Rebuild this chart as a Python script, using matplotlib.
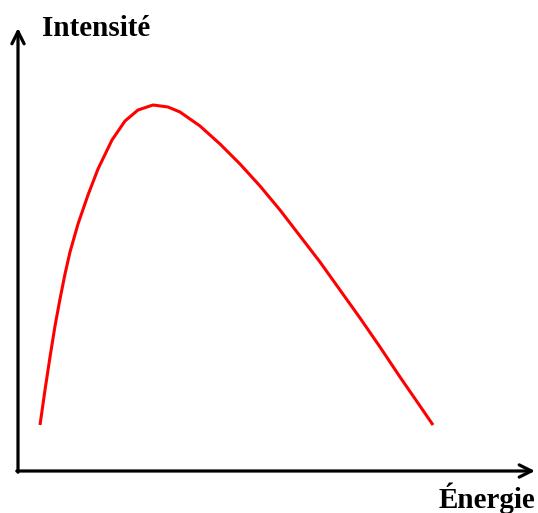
import matplotlib.pyplot as plt

# Values (arbitrary units)
energie = [22, 27, 32, 37, 42, 47, 52, 60, 70, 80, 94, 107, 120, 135, 150, 162,
           182, 202, 222, 242, 262, 282, 302, 322, 342, 362, 382, 402, 415]
intensite = [46, 81, 114, 145, 172, 197, 219, 247, 276, 302, 331, 350, 361, 366, 364, 359,
             345, 327, 307, 285, 261, 235, 209, 181, 153, 124, 94, 65, 46]

label_x = "Énergie"
label_y = "Intensité"

fig = plt.figure(figsize=(5.38, 5.13), dpi=100)
ax = fig.add_axes([0, 0, 1, 1])
ax.set_xlim(-18, 520)
ax.set_ylim(-42, 471)
ax.axis('off')

# axes drawn as arrows
arrow = dict(arrowstyle='->', color='black', lw=2.3, mutation_scale=22, shrinkA=0, shrinkB=0)
ax.annotate('', xy=(0, 443), xytext=(0, -1.2), arrowprops=arrow)
ax.annotate('', xy=(517, 0), xytext=(-1.2, 0), arrowprops=arrow)

# the spectrum
ax.plot(energie, intensite, color='red', linewidth=2.2, solid_capstyle='butt',
        solid_joinstyle='round')

font = dict(family='Liberation Serif', fontweight='bold', fontsize=21)
ax.text(24, 435, label_y, ha='left', va='baseline', **font)
ax.text(517, -37, label_x, ha='right', va='baseline', **font)

fig.savefig('out.png', dpi=100)
